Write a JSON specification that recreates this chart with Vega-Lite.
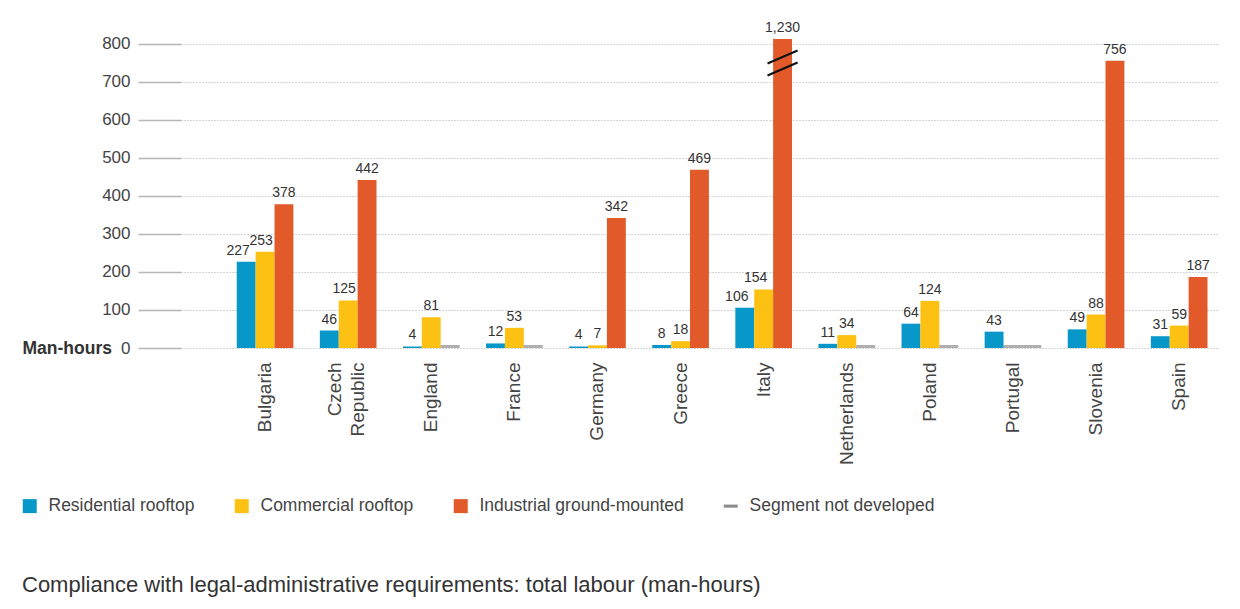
{
  "$schema": "https://vega.github.io/schema/vega-lite/v6.json",
  "width": 1038,
  "height": 309,
  "autosize": {"type": "none"},
  "padding": {"left": 181, "top": 39, "right": 21, "bottom": 261},
  "background": "white",
  "config": {
    "font": "Liberation Sans",
    "view": {"stroke": null},
    "axisY": {"tickCount": 9}
  },
  "title": {
    "text": "Compliance with legal-administrative requirements: total labour (man-hours)",
    "orient": "bottom",
    "anchor": "start",
    "frame": "group",
    "dx": -159,
    "offset": 60,
    "fontSize": 22,
    "fontWeight": "normal",
    "color": "#333333"
  },
  "data": {
    "values": [
      {"country": "Bulgaria", "slot": "Residential rooftop", "segment": "Residential rooftop", "value": 227},
      {"country": "Bulgaria", "slot": "Commercial rooftop", "segment": "Commercial rooftop", "value": 253},
      {"country": "Bulgaria", "slot": "Industrial ground-mounted", "segment": "Industrial ground-mounted", "value": 378},
      {"country": "Czech Republic", "slot": "Residential rooftop", "segment": "Residential rooftop", "value": 46},
      {"country": "Czech Republic", "slot": "Commercial rooftop", "segment": "Commercial rooftop", "value": 125},
      {"country": "Czech Republic", "slot": "Industrial ground-mounted", "segment": "Industrial ground-mounted", "value": 442},
      {"country": "England", "slot": "Residential rooftop", "segment": "Residential rooftop", "value": 4},
      {"country": "England", "slot": "Commercial rooftop", "segment": "Commercial rooftop", "value": 81},
      {"country": "England", "slot": "Industrial ground-mounted", "segment": "Segment not developed", "value": null},
      {"country": "France", "slot": "Residential rooftop", "segment": "Residential rooftop", "value": 12},
      {"country": "France", "slot": "Commercial rooftop", "segment": "Commercial rooftop", "value": 53},
      {"country": "France", "slot": "Industrial ground-mounted", "segment": "Segment not developed", "value": null},
      {"country": "Germany", "slot": "Residential rooftop", "segment": "Residential rooftop", "value": 4},
      {"country": "Germany", "slot": "Commercial rooftop", "segment": "Commercial rooftop", "value": 7},
      {"country": "Germany", "slot": "Industrial ground-mounted", "segment": "Industrial ground-mounted", "value": 342},
      {"country": "Greece", "slot": "Residential rooftop", "segment": "Residential rooftop", "value": 8},
      {"country": "Greece", "slot": "Commercial rooftop", "segment": "Commercial rooftop", "value": 18},
      {"country": "Greece", "slot": "Industrial ground-mounted", "segment": "Industrial ground-mounted", "value": 469},
      {"country": "Italy", "slot": "Residential rooftop", "segment": "Residential rooftop", "value": 106},
      {"country": "Italy", "slot": "Commercial rooftop", "segment": "Commercial rooftop", "value": 154},
      {"country": "Italy", "slot": "Industrial ground-mounted", "segment": "Industrial ground-mounted", "value": 1230},
      {"country": "Netherlands", "slot": "Residential rooftop", "segment": "Residential rooftop", "value": 11},
      {"country": "Netherlands", "slot": "Commercial rooftop", "segment": "Commercial rooftop", "value": 34},
      {"country": "Netherlands", "slot": "Industrial ground-mounted", "segment": "Segment not developed", "value": null},
      {"country": "Poland", "slot": "Residential rooftop", "segment": "Residential rooftop", "value": 64},
      {"country": "Poland", "slot": "Commercial rooftop", "segment": "Commercial rooftop", "value": 124},
      {"country": "Poland", "slot": "Industrial ground-mounted", "segment": "Segment not developed", "value": null},
      {"country": "Portugal", "slot": "Residential rooftop", "segment": "Residential rooftop", "value": 43},
      {"country": "Portugal", "slot": "Commercial rooftop", "segment": "Segment not developed", "value": null},
      {"country": "Portugal", "slot": "Industrial ground-mounted", "segment": "Segment not developed", "value": null},
      {"country": "Slovenia", "slot": "Residential rooftop", "segment": "Residential rooftop", "value": 49},
      {"country": "Slovenia", "slot": "Commercial rooftop", "segment": "Commercial rooftop", "value": 88},
      {"country": "Slovenia", "slot": "Industrial ground-mounted", "segment": "Industrial ground-mounted", "value": 756},
      {"country": "Spain", "slot": "Residential rooftop", "segment": "Residential rooftop", "value": 31},
      {"country": "Spain", "slot": "Commercial rooftop", "segment": "Commercial rooftop", "value": 59},
      {"country": "Spain", "slot": "Industrial ground-mounted", "segment": "Industrial ground-mounted", "value": 187}
    ]
  },
  "encoding": {
    "x": {
      "field": "country",
      "type": "nominal",
      "sort": null,
      "scale": {"paddingInner": 0.318, "paddingOuter": 0.4045, "align": 0.829},
      "axis": {
        "title": null,
        "labelAngle": -90,
        "labelAlign": "right",
        "labelBaseline": "middle",
        "labelPadding": 14,
        "labelFontSize": 19,
        "labelColor": "#444444",
        "labelLineHeight": 23,
        "labelLimit": 300,
        "labelOffset": {"condition": {"test": "datum.label == 'Czech Republic'", "value": -13}, "value": 0},
        "ticks": false,
        "domain": false,
        "labelExpr": "datum.label == 'Czech Republic' ? ['Czech', 'Republic'] : datum.label"
      }
    },
    "xOffset": {
      "field": "slot",
      "type": "nominal",
      "sort": ["Residential rooftop", "Commercial rooftop", "Industrial ground-mounted"],
      "scale": {"paddingInner": 0, "paddingOuter": 0}
    }
  },
  "layer": [
    {
      "transform": [{"filter": "datum.value != null"}],
      "mark": {"type": "bar"},
      "encoding": {
        "y": {
          "field": "value",
          "type": "quantitative",
          "scale": {"domain": [0, 813], "nice": false, "clamp": true},
          "axis": {
            "values": [0, 100, 200, 300, 400, 500, 600, 700, 800],
            "tickCount": 9,
            "labelOverlap": false,
            "title": "Man-hours",
            "titleAngle": 0,
            "titleAlign": "left",
            "titleBaseline": "middle",
            "titleX": -159,
            "titleY": 309,
            "titleFontSize": 17.5,
            "titleFontWeight": "bold",
            "titleColor": "#333333",
            "labelFontSize": 17,
            "labelColor": "#444444",
            "labelPadding": 8,
            "tickSize": 43,
            "tickColor": "#b5b5b5",
            "tickWidth": 1.3,
            "domain": false,
            "grid": true,
            "gridColor": "#a8a8a8",
            "gridDash": [1, 2],
            "gridWidth": 1
          }
        },
        "color": {
          "field": "segment",
          "type": "nominal",
          "scale": {
            "domain": ["Residential rooftop", "Commercial rooftop", "Industrial ground-mounted", "Segment not developed"],
            "range": ["#0798c9", "#fdc113", "#e2592a", "#8d8d8d"]
          },
          "legend": {
            "orient": "none",
            "legendX": -160,
            "legendY": 458,
            "direction": "horizontal",
            "title": null,
            "symbolType": "square",
            "symbolSize": 196,
            "symbolStrokeWidth": 0,
            "symbolOpacity": 1,
            "labelFontSize": 17.5,
            "labelColor": "#444444",
            "labelOffset": 10,
            "columnPadding": 38,
            "labelLimit": 400,
            "encode": {
              "symbols": {
                "update": {
                  "shape": {"signal": "datum.value === 'Segment not developed' ? 'M-1,-0.22H1V0.22H-1Z' : 'square'"}
                }
              }
            }
          }
        }
      }
    },
    {
      "transform": [{"filter": "datum.segment == 'Segment not developed'"}],
      "mark": {"type": "tick", "orient": "horizontal", "thickness": 3, "size": 19, "yOffset": -1.5},
      "encoding": {
        "y": {"datum": 0, "type": "quantitative"},
        "color": {"field": "segment", "type": "nominal"}
      }
    },
    {
      "transform": [
        {"filter": "datum.value != null"},
        {"filter": "!((datum.country == 'Bulgaria' || datum.country == 'Italy' || datum.country == 'Czech Republic') && datum.slot != 'Industrial ground-mounted')"}
      ],
      "mark": {"type": "text", "baseline": "alphabetic", "dy": -7, "fontSize": 14, "color": "#333333"},
      "encoding": {
        "y": {"field": "value", "type": "quantitative"},
        "text": {"field": "value", "type": "quantitative", "format": ","}
      }
    },
    {
      "transform": [
        {"filter": "(datum.country == 'Bulgaria' && datum.slot == 'Residential rooftop') || (datum.country == 'Italy' && datum.slot != 'Industrial ground-mounted')"}
      ],
      "mark": {"type": "text", "baseline": "alphabetic", "dy": -7, "dx": -8, "fontSize": 14, "color": "#333333"},
      "encoding": {
        "y": {"field": "value", "type": "quantitative"},
        "text": {"field": "value", "type": "quantitative", "format": ","}
      }
    },
    {
      "transform": [
        {"filter": "(datum.country == 'Bulgaria' || datum.country == 'Czech Republic') && datum.slot == 'Commercial rooftop'"}
      ],
      "mark": {"type": "text", "baseline": "alphabetic", "dy": -7, "dx": -4, "fontSize": 14, "color": "#333333"},
      "encoding": {
        "y": {"field": "value", "type": "quantitative"},
        "text": {"field": "value", "type": "quantitative", "format": ","}
      }
    },
    {
      "transform": [
        {"filter": "(datum.country == 'Czech Republic') && datum.slot == 'Residential rooftop'"}
      ],
      "mark": {"type": "text", "baseline": "alphabetic", "dy": -7, "fontSize": 14, "color": "#333333"},
      "encoding": {
        "y": {"field": "value", "type": "quantitative"},
        "text": {"field": "value", "type": "quantitative", "format": ","}
      }
    },
    {
      "transform": [{"filter": "datum.country == 'Italy' && datum.slot == 'Industrial ground-mounted'"}],
      "mark": {
        "type": "point",
        "shape": "M-0.94,0.03L0.94,-0.78M-0.94,0.78L0.94,-0.03",
        "size": 1024,
        "filled": false,
        "stroke": "#111111",
        "strokeWidth": 2.2,
        "opacity": 1
      },
      "encoding": {
        "y": {"datum": 750, "type": "quantitative"}
      }
    }
  ]
}
